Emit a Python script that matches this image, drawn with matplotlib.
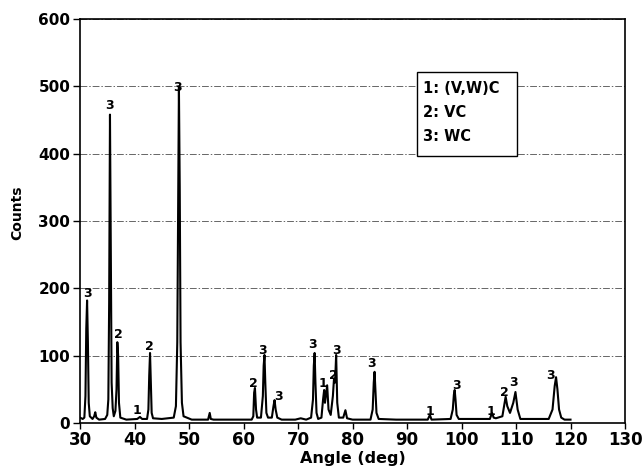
import matplotlib
matplotlib.use("Agg")
import matplotlib.pyplot as plt
from matplotlib.patches import Rectangle

# ---- data ----
angle = [30.0, 30.5, 30.8, 31.0, 31.15, 31.3, 31.45, 31.6, 31.8, 32.3, 32.6, 32.8, 33.0, 33.5,
         34.6, 35.0, 35.2, 35.35, 35.5, 35.65, 35.8, 36.0, 36.2, 36.5, 36.7, 36.85, 37.0, 37.15, 37.4, 38.5,
         40.5, 41.0, 41.4, 42.3, 42.55, 42.7, 42.85, 43.0, 43.15, 43.4, 45.0, 47.2, 47.6, 47.85, 48.0,
         48.15, 48.3, 48.45, 48.7, 49.0, 49.6, 50.5, 53.5, 53.8, 54.0, 54.5, 61.5, 61.8,
         61.95, 62.1, 62.3, 62.5, 63.2, 63.55, 63.7, 63.85, 64.0, 64.2, 64.5, 65.2, 65.5, 65.7, 65.9,
         66.2, 67.0, 69.5, 70.5, 71.5, 72.4, 72.75, 72.9, 73.05, 73.2, 73.4, 73.7, 74.3, 74.6,
         74.8, 74.95, 75.1, 75.35, 75.6, 76.0, 76.4, 76.6, 76.8, 77.0, 77.2, 77.5,
         78.3, 78.7, 79.0, 80.0, 83.3, 83.7, 83.9, 84.05, 84.2, 84.4, 84.8, 88.0, 93.8, 94.2,
         94.5, 98.0, 98.4, 98.6, 98.75, 98.9, 99.1, 99.5, 105.2, 105.6, 105.9, 106.3, 107.5, 107.9,
         108.1, 108.4, 108.9, 109.5, 109.9, 110.3, 110.8, 116.0, 116.7, 117.1, 117.35, 117.6, 117.9,
         118.3, 118.9, 120.0]
counts = [8, 6, 8, 40, 140, 182, 120, 30, 10, 6, 10, 16, 8, 5,
          6, 12, 35, 180, 458, 250, 60, 22, 10, 18, 50, 120, 100, 30, 8, 5,
          6, 9, 6, 6, 20, 70, 104, 60, 15, 7, 6, 8, 25, 120, 300,
          499, 350, 120, 30, 10, 8, 5, 5, 15, 6, 5, 5, 10,
          45, 52, 20, 8, 8, 40, 85, 101, 60, 15, 8, 8, 25, 34, 20,
          8, 5, 5, 7, 5, 8, 35, 85, 104, 60, 15, 6, 8, 35,
          49, 30, 40, 56, 20, 12, 40, 65, 60, 101, 30, 8,
          8, 19, 7, 5, 5, 20, 60, 76, 50, 15, 6, 5, 5, 12,
          5, 6, 20, 42, 49, 35, 12, 6, 6, 15, 8, 7, 10, 30,
          39, 25, 15, 30, 46, 20, 6, 6, 20, 55, 68, 50, 20,
          8, 5, 5]

label_x = [31.3, 35.5, 37.1, 40.5, 42.8, 47.9, 61.8, 63.5, 66.4, 72.6, 74.6, 76.5,
           77.1, 83.5, 94.3, 99.0, 105.4, 107.8, 109.6, 116.4]
label_y = [193, 471, 131, 19, 113, 499, 58, 107, 39, 116, 59, 70,
           107, 88, 17, 55, 17, 45, 60, 70]
label_txt = ["3", "3", "2", "1", "2", "3", "2", "3", "3", "3", "1", "2",
             "3", "3", "1", "3", "1", "2", "3", "3"]

legend_lines = ["1: (V,W)C", "2: VC", "3: WC"]

x_ticks = [30, 40, 50, 60, 70, 80, 90, 100, 110, 120, 130]
y_ticks = [0, 100, 200, 300, 400, 500, 600]

# ---- figure ----
plt.rcParams['font.family'] = ['DejaVu Sans']
fig = plt.figure(figsize=(6.42, 4.69), dpi=100)
ax = fig.add_axes([80/642, 46/469, 545/642, 404/469])

ax.plot(angle, counts, color='black', lw=1.5, zorder=3)

for lx, ly, t in zip(label_x, label_y, label_txt):
    ax.text(lx, ly, t, ha='center', va='center', fontsize=9, fontweight='bold', zorder=4)

ax.set_xlim(30, 130)
ax.set_ylim(0, 600)
ax.set_xticks(x_ticks)
ax.set_yticks(y_ticks)
ax.tick_params(axis='x', labelsize=12, direction='out', length=4, width=1, pad=2)
ax.tick_params(axis='y', labelsize=11, direction='out', length=5, width=1, pad=2)
for lab in ax.get_xticklabels() + ax.get_yticklabels():
    lab.set_fontweight('bold')

ax.yaxis.grid(True, color='#666666', lw=0.7, linestyle=(0, (7, 2, 1.5, 2)), zorder=1)
ax.set_axisbelow(True)
for s in ax.spines.values():
    s.set_linewidth(1.2)

ax.set_xlabel('Angle (deg)', fontsize=11.5, fontweight='bold', labelpad=1)
ax.set_ylabel('Counts', fontsize=10, fontweight='bold')
ax.yaxis.set_label_coords(-0.103, 0.52)

rect = Rectangle((0.618, 0.6616), 0.184, 0.208, transform=ax.transAxes,
                 facecolor='white', edgecolor='black', lw=1.0, zorder=5)
ax.add_patch(rect)
for i, t in enumerate(legend_lines):
    ax.text(0.629, 0.829 - i*0.0595, t, transform=ax.transAxes, ha='left', va='center',
            fontsize=10.5, fontweight='bold', zorder=6)

fig.savefig('out.png', dpi=100)
